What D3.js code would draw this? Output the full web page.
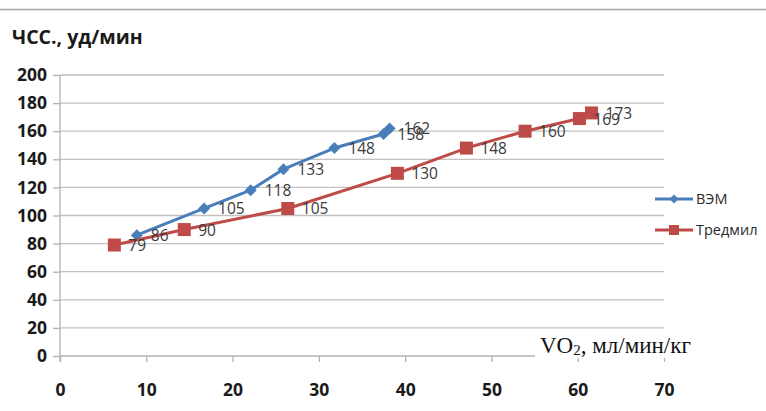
<!DOCTYPE html>
<html>
<head>
<meta charset="utf-8">
<script src="https://cdn.jsdelivr.net/npm/d3@7"></script>
<style>
  html, body { margin: 0; padding: 0; background: #ffffff; }
  svg { display: block; }
</style>
</head>
<body>
<svg id="chart" width="766" height="411"></svg>
<script>
// ---- data ----
const seriesNames = ["ВЭМ", "Тредмил"];
const vemX = [8.9, 16.7, 22.1, 25.9, 31.8, 37.5, 38.2];
const vemY = [86, 105, 118, 133, 148, 158, 162];
const tredX = [6.3, 14.4, 26.4, 39.1, 47.1, 53.9, 60.2, 61.6];
const tredY = [79, 90, 105, 130, 148, 160, 169, 173];
const xTicks = [0, 10, 20, 30, 40, 50, 60, 70];
const yTicks = [0, 20, 40, 60, 80, 100, 120, 140, 160, 180, 200];
const yTitle = "ЧСС., уд/мин";
const xTitleMain = "VO";
const xTitleSub = "2";
const xTitleRest = ", мл/мин/кг";

const colors = ["#4a7ebb", "#be4b48"];

const svg = d3.select("#chart");
const x = d3.scaleLinear().domain([0, 70]).range([60, 664]);
const y = d3.scaleLinear().domain([0, 200]).range([356, 75]);

// top frame line
svg.append("line").attr("x1", 0).attr("x2", 766).attr("y1", 9.5).attr("y2", 9.5)
  .attr("stroke", "#a6a6a6").attr("stroke-width", 1.5);

// gridlines
svg.append("g").selectAll("line").data(yTicks.filter(d => d > 0)).join("line")
  .attr("x1", x(0)).attr("x2", x(70))
  .attr("y1", d => y(d)).attr("y2", d => y(d))
  .attr("stroke", "#c4c0bf").attr("stroke-width", 1.3);

// y axis
const yAxis = d3.axisLeft(y).tickValues(yTicks).tickSize(7).tickPadding(6).tickFormat(d3.format("d"));
const gy = svg.append("g").attr("transform", `translate(${x(0)},0)`).call(yAxis);
gy.select(".domain").attr("stroke", "#b5b1b0").attr("stroke-width", 1.3)
  .attr("d", `M0,${y(200)}V${y(0) + 6}`);
gy.selectAll(".tick line").attr("stroke", "#b5b1b0").attr("stroke-width", 1.3);
gy.selectAll(".tick text").attr("font-family", "'Open Sans', sans-serif")
  .attr("font-weight", "bold").attr("font-size", 17.5).attr("fill", "#1a1a1a");

// x axis
const xAxis = d3.axisBottom(x).tickValues(xTicks).tickSize(6).tickPadding(22).tickFormat(d3.format("d"));
const gx = svg.append("g").attr("transform", `translate(0,${y(0)})`).call(xAxis);
gx.select(".domain").attr("stroke", "#b5b1b0").attr("stroke-width", 1.3)
  .attr("d", `M${x(0)},0H${x(70)}`);
gx.selectAll(".tick line").attr("stroke", "#b5b1b0").attr("stroke-width", 1.3);
gx.selectAll(".tick text").attr("font-family", "'Open Sans', sans-serif")
  .attr("font-weight", "bold").attr("font-size", 17.5).attr("fill", "#1a1a1a");

// y title
svg.append("text").attr("x", 12).attr("y", 44).text(yTitle)
  .attr("font-family", "'Open Sans', sans-serif").attr("font-weight", "bold")
  .attr("font-size", 19.5).attr("fill", "#1a1a1a");

// series
const series = [
  { name: seriesNames[0], xs: vemX, ys: vemY, color: colors[0], marker: "diamond" },
  { name: seriesNames[1], xs: tredX, ys: tredY, color: colors[1], marker: "square" }
];
const line = d3.line().x(d => x(d[0])).y(d => y(d[1]));

function drawMarker(g, type, color) {
  if (type === "diamond") {
    g.append("path").attr("d", "M0,-6L6,0L0,6L-6,0Z").attr("fill", color);
  } else {
    g.append("rect").attr("x", -6.5).attr("y", -6.5).attr("width", 13).attr("height", 13).attr("fill", color);
  }
}

series.forEach(s => {
  const pts = s.xs.map((v, i) => [v, s.ys[i]]);
  svg.append("path").datum(pts).attr("d", line).attr("fill", "none")
    .attr("stroke", s.color).attr("stroke-width", 3).attr("stroke-linejoin", "round");
  pts.forEach(p => {
    const g = svg.append("g").attr("transform", `translate(${x(p[0])},${y(p[1])})`);
    drawMarker(g, s.marker, s.color);
  });
});

// data labels
series.forEach(s => {
  s.xs.forEach((v, i) => {
    svg.append("text").attr("x", x(v) + 14).attr("y", y(s.ys[i]) + 6)
      .text(s.ys[i])
      .attr("font-family", "'Open Sans', sans-serif").attr("font-size", 15.5)
      .attr("fill", "#3a3a3a");
  });
});

// legend
series.forEach((s, i) => {
  const ly = 199 + i * 31;
  svg.append("line").attr("x1", 655).attr("x2", 693).attr("y1", ly).attr("y2", ly)
    .attr("stroke", s.color).attr("stroke-width", 3);
  const g = svg.append("g").attr("transform", `translate(674,${ly})`);
  if (s.marker === "diamond") {
    g.append("path").attr("d", "M0,-4.5L4.5,0L0,4.5L-4.5,0Z").attr("fill", s.color);
  } else {
    g.append("rect").attr("x", -5).attr("y", -5).attr("width", 10).attr("height", 10).attr("fill", s.color);
  }
  svg.append("text").attr("x", 696).attr("y", ly + 5).text(s.name)
    .attr("font-family", "'Open Sans', sans-serif").attr("font-size", 14.5)
    .attr("fill", "#2a2a2a");
});

// x title box
svg.append("rect").attr("x", 535).attr("y", 330).attr("width", 178).attr("height", 28)
  .attr("fill", "#ffffff");
const xt = svg.append("text").attr("x", 540).attr("y", 353)
  .attr("font-family", "'Liberation Serif', 'Times New Roman', serif")
  .attr("font-size", 23).attr("fill", "#111");
xt.append("tspan").text(xTitleMain);
xt.append("tspan").text(xTitleSub).attr("font-size", 15).attr("dy", 2);
xt.append("tspan").text(xTitleRest).attr("dy", -2);
</script>
</body>
</html>
